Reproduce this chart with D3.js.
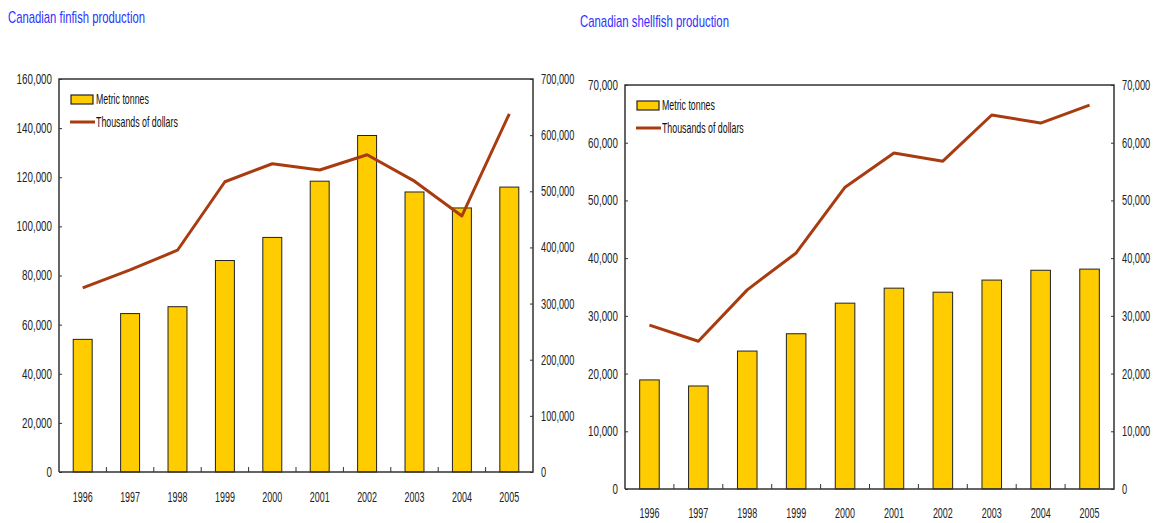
<!DOCTYPE html>
<html>
<head>
<meta charset="utf-8">
<script src="https://cdn.jsdelivr.net/npm/d3@7"></script>
<style>
  html, body { margin: 0; padding: 0; background: #fff; }
  svg { display: block; }
  text { font-family: "Liberation Sans", Arial, sans-serif; }
</style>
</head>
<body>
<svg id="chart" width="1154" height="523"></svg>
<script>
// ---- data ----
const years = ["1996","1997","1998","1999","2000","2001","2002","2003","2004","2005"];
const finfishTonnes  = [54000, 64500, 67300, 86100, 95500, 118400, 137000, 114000, 107500, 116000];
const finfishDollars = [328000, 360000, 395000, 517000, 549000, 538000, 565000, 518000, 456000, 638000];
const shellTonnes  = [18900, 17850, 23900, 26900, 32200, 34800, 34100, 36200, 37900, 38100];
const shellDollars = [28400, 25600, 34500, 40900, 52300, 58200, 56800, 64800, 63400, 66500];
const finLeftTicks  = [0, 20000, 40000, 60000, 80000, 100000, 120000, 140000, 160000];
const finRightTicks = [0, 100000, 200000, 300000, 400000, 500000, 600000, 700000];
const shellTicks = [0, 10000, 20000, 30000, 40000, 50000, 60000, 70000];
const titles = ["Canadian finfish production", "Canadian shellfish production"];
const legendLabels = ["Metric tonnes", "Thousands of dollars"];

const svg = d3.select("#chart");
const fmt = d3.format(",");
const barColor = "#ffcc00";
const lineColor = "#a83c10";
const axisColor = "#333";

// condense text horizontally (reference uses a narrow typeface)
function squeeze(sel, ratio) {
  sel.each(function () {
    const s = d3.select(this);
    const x = +s.attr("x") || 0;
    s.attr("x", x / ratio).attr("transform", `scale(${ratio},1)`);
  });
}

function drawPanel(cfg) {
  const g = svg.append("g");
  const x = d3.scaleBand().domain(years).range([cfg.left, cfg.right]).paddingInner(0.6).paddingOuter(0.3);
  const xb = d3.scaleBand().domain(years).range([cfg.left, cfg.right]);
  const yL = d3.scaleLinear().domain([0, cfg.leftMax]).range([cfg.bottom, cfg.top]);
  const yR = d3.scaleLinear().domain([0, cfg.rightMax]).range([cfg.bottom, cfg.top]);

  // title
  g.append("text").attr("x", cfg.titleX).attr("y", cfg.titleY)
    .attr("fill", "#3030ff").attr("font-size", 17)
    .attr("textLength", cfg.titleW).attr("lengthAdjust", "spacingAndGlyphs")
    .text(cfg.title);

  // bars
  g.selectAll("rect.bar").data(cfg.bars).join("rect")
    .attr("class", "bar")
    .attr("x", (d, i) => x(years[i]))
    .attr("width", x.bandwidth())
    .attr("y", d => yL(d))
    .attr("height", d => cfg.bottom - yL(d))
    .attr("fill", barColor).attr("stroke", "#222").attr("stroke-width", 1);

  // line
  const line = d3.line().x((d, i) => xb(years[i]) + xb.bandwidth() / 2).y(d => yR(d));
  g.append("path").datum(cfg.line).attr("d", line)
    .attr("fill", "none").attr("stroke", lineColor).attr("stroke-width", 3)
    .attr("stroke-linejoin", "round");

  // frame
  g.append("path")
    .attr("d", `M${cfg.left},${cfg.bottom}V${cfg.top}H${cfg.right}V${cfg.bottom}H${cfg.left}`)
    .attr("fill", "none").attr("stroke", axisColor).attr("stroke-width", 1.5);

  // left axis
  const axL = d3.axisLeft(yL).tickValues(cfg.leftTicks).tickFormat(fmt).tickSize(-3).tickPadding(7);
  const gL = g.append("g").attr("transform", `translate(${cfg.left},0)`).call(axL);
  // right axis
  const axR = d3.axisRight(yR).tickValues(cfg.rightTicks).tickFormat(fmt).tickSize(-3).tickPadding(8);
  const gR = g.append("g").attr("transform", `translate(${cfg.right},0)`).call(axR);
  // bottom axis: ticks at band boundaries
  const axB = d3.axisBottom(xb).tickSize(0).tickPadding(cfg.xPad);
  const gB = g.append("g").attr("transform", `translate(0,${cfg.bottom})`).call(axB);
  g.selectAll("line.xt").data(years.slice(1)).join("line").attr("class", "xt")
    .attr("x1", d => xb(d)).attr("x2", d => xb(d))
    .attr("y1", cfg.bottom).attr("y2", cfg.bottom - 5)
    .attr("stroke", axisColor).attr("stroke-width", 1);

  [gL, gR, gB].forEach(a => {
    a.select(".domain").remove();
    a.selectAll(".tick line").attr("stroke", axisColor);
    a.selectAll(".tick text").attr("fill", "#222").attr("font-size", 14)
      .style("font-family", '"Liberation Sans", Arial, sans-serif');
  });
  squeeze(gL.selectAll(".tick text"), 0.70);
  squeeze(gR.selectAll(".tick text"), 0.66);
  squeeze(gB.selectAll(".tick text"), 0.64);

  // legend
  const lg = g.append("g");
  lg.append("rect").attr("x", cfg.left + 12).attr("y", cfg.top + 16).attr("width", 22).attr("height", 9)
    .attr("fill", barColor).attr("stroke", "#222").attr("stroke-width", 1.2);
  const l1 = lg.append("text").attr("x", cfg.left + 37).attr("y", cfg.top + 25).attr("font-size", 14).attr("fill", "#111")
    .text(legendLabels[0]);
  lg.append("line").attr("x1", cfg.left + 11).attr("x2", cfg.left + 36)
    .attr("y1", cfg.top + 43).attr("y2", cfg.top + 43)
    .attr("stroke", lineColor).attr("stroke-width", 3);
  const l2 = lg.append("text").attr("x", cfg.left + 37).attr("y", cfg.top + 48).attr("font-size", 14).attr("fill", "#111")
    .text(legendLabels[1]);
  squeeze(l1, 0.63);
  squeeze(l2, 0.63);
}

drawPanel({
  title: titles[0], titleX: 8, titleY: 23, titleW: 137,
  left: 59, right: 533, top: 79, bottom: 472,
  leftMax: 160000, rightMax: 700000,
  leftTicks: finLeftTicks, rightTicks: finRightTicks,
  bars: finfishTonnes, line: finfishDollars, xPad: 20
});
drawPanel({
  title: titles[1], titleX: 580, titleY: 27, titleW: 149,
  left: 625, right: 1114, top: 85, bottom: 489,
  leftMax: 70000, rightMax: 70000,
  leftTicks: shellTicks, rightTicks: shellTicks,
  bars: shellTonnes, line: shellDollars, xPad: 19
});
</script>
</body>
</html>
